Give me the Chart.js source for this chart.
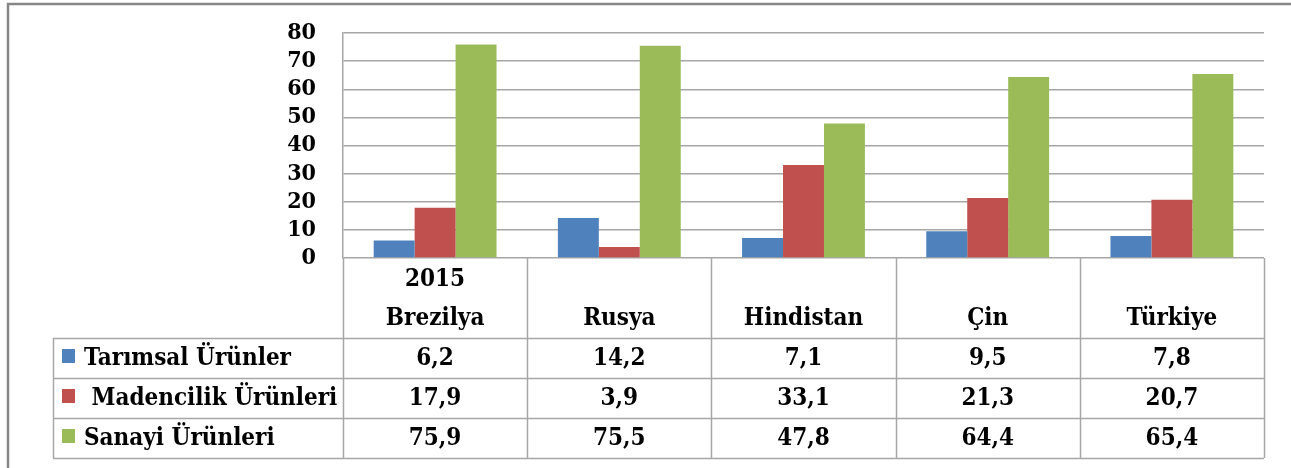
<!DOCTYPE html>
<html>
<head>
<meta charset="utf-8">
<script src="https://cdn.jsdelivr.net/npm/chart.js@4"></script>
<style>
  body { margin: 0; background: #fff; }
  canvas { display: block; }
</style>
</head>
<body>
<canvas id="exportChart" width="1291" height="468"></canvas>
<script>
const countries = ['Brezilya', 'Rusya', 'Hindistan', 'Çin', 'Türkiye'];
const yearLabel = '2015';
const seriesNames = ['Tarımsal Ürünler', ' Madencilik Ürünleri', 'Sanayi Ürünleri'];
const tarimsal = [6.2, 14.2, 7.1, 9.5, 7.8];
const madencilik = [17.9, 3.9, 33.1, 21.3, 20.7];
const sanayi = [75.9, 75.5, 47.8, 64.4, 65.4];
const yTicks = [0, 10, 20, 30, 40, 50, 60, 70, 80];

const colors = ['#4F81BD', '#C0504D', '#9BBB59'];
const family = '"DejaVu Serif Condensed", "DejaVu Serif"';
const tableFont = 'bold 24px ' + family;
const lineColor = '#A6A6A6';

const fmt = v => v.toFixed(1).replace('.', ',');

// data table + frame drawn under the plot, aligned on the x scale
const dataTable = {
  id: 'dataTable',
  beforeDraw(chart) {
    const ctx = chart.ctx;
    ctx.save();
    ctx.fillStyle = '#fff';
    ctx.fillRect(0, 0, chart.width, chart.height);
    ctx.restore();
  },
  afterDraw(chart) {
    const ctx = chart.ctx;
    const x = chart.scales.x;
    const area = chart.chartArea;
    const half = (x.getPixelForValue(1) - x.getPixelForValue(0)) / 2;
    const top = area.bottom;
    const rowTop = top + 80;
    const rowH = 40;
    const legendLeft = 53;
    const bottom = rowTop + rowH * 3;
    const series = chart.data.datasets;

    ctx.save();
    ctx.strokeStyle = lineColor;
    ctx.lineWidth = 1.5;
    ctx.beginPath();
    // vertical column lines
    for (let i = 0; i <= countries.length; i++) {
      const px = Math.round(x.getPixelForValue(i) - half) + 0.5;
      ctx.moveTo(px, top);
      ctx.lineTo(px, bottom);
    }
    ctx.moveTo(legendLeft + 0.5, rowTop);
    ctx.lineTo(legendLeft + 0.5, bottom);
    // horizontal row lines
    for (let r = 0; r <= 3; r++) {
      const py = Math.round(rowTop + r * rowH) + 0.5;
      ctx.moveTo(legendLeft, py);
      ctx.lineTo(area.right, py);
    }
    ctx.stroke();

    ctx.fillStyle = '#000';
    ctx.font = tableFont;
    ctx.textBaseline = 'alphabetic';
    ctx.textAlign = 'center';
    countries.forEach((c, i) => {
      const cx = x.getPixelForValue(i);
      ctx.fillText(c, cx, top + 67);
      if (i === 0) ctx.fillText(yearLabel, cx, top + 28);
    });

    series.forEach((ds, r) => {
      const base = rowTop + r * rowH + 27;
      ctx.fillStyle = ds.backgroundColor;
      ctx.fillRect(62, base - 16, 13, 14);
      ctx.fillStyle = '#000';
      ctx.textAlign = 'left';
      ctx.fillText(ds.label, 84, base);
      ctx.textAlign = 'center';
      ds.data.forEach((v, i) => {
        ctx.fillText(fmt(v), x.getPixelForValue(i), base);
      });
    });

    // outer frame
    ctx.strokeStyle = '#868686';
    ctx.lineWidth = 2.5;
    ctx.beginPath();
    ctx.moveTo(8, chart.height);
    ctx.lineTo(8, 4);
    ctx.lineTo(chart.width, 4);
    ctx.stroke();
    ctx.restore();
  }
};

new Chart(document.getElementById('exportChart'), {
  type: 'bar',
  data: {
    labels: countries,
    datasets: [
      { label: seriesNames[0], data: tarimsal, backgroundColor: colors[0] },
      { label: seriesNames[1], data: madencilik, backgroundColor: colors[1] },
      { label: seriesNames[2], data: sanayi, backgroundColor: colors[2] }
    ]
  },
  options: {
    responsive: false,
    animation: false,
    layout: { padding: { left: 0, right: 27, top: 33, bottom: 210 } },
    datasets: {
      bar: { categoryPercentage: 0.667, barPercentage: 1.0, borderWidth: 0 }
    },
    plugins: {
      legend: { display: false },
      tooltip: { enabled: false }
    },
    scales: {
      x: { display: false },
      y: {
        min: 0,
        max: 80,
        afterFit: s => { s.width = 343; s.paddingTop = 0; s.paddingBottom = 0; },
        afterBuildTicks: s => { s.ticks = yTicks.map(v => ({ value: v })); },
        grid: { color: lineColor, lineWidth: 1.5, drawTicks: false },
        border: { color: lineColor, width: 1.5 },
        ticks: {
          color: '#000',
          autoSkip: false,
          font: { family: family, size: 23, weight: 'bold' },
          padding: 27
        }
      }
    }
  },
  plugins: [dataTable]
});
</script>
</body>
</html>
